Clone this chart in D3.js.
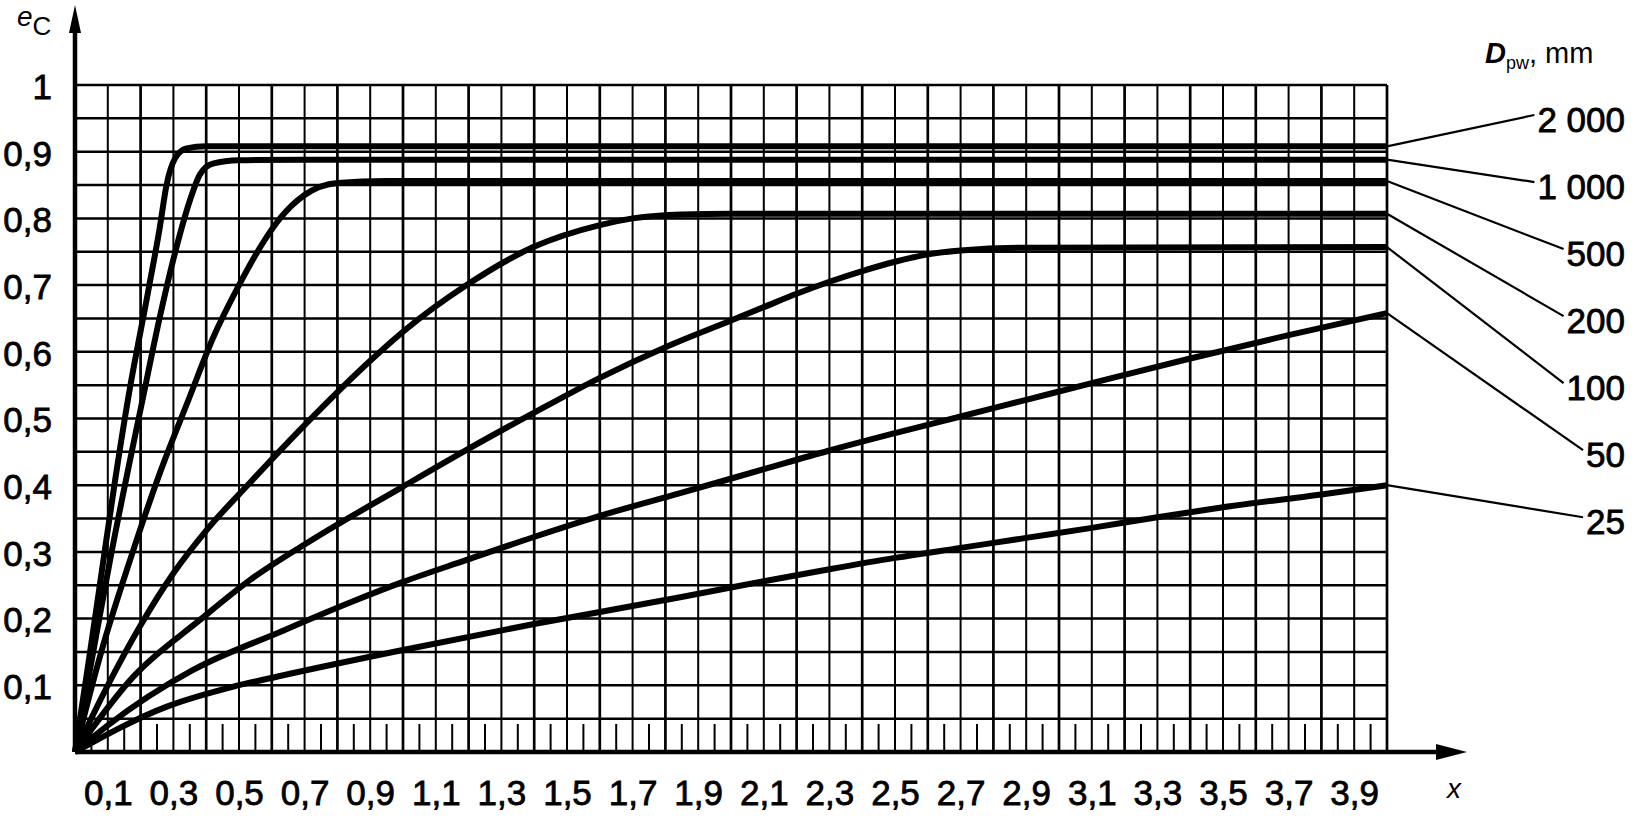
<!DOCTYPE html>
<html>
<head>
<meta charset="utf-8">
<script src="https://cdn.jsdelivr.net/npm/d3@7"></script>
<style>
  body { margin: 0; background: #fff; }
  text { font-family: "Liberation Sans", Arial, sans-serif; fill: #000; }
</style>
</head>
<body>
<div id="chart"></div>
<script>
// curve labels (D_pw, mm), top to bottom
var dpwLabels = ["2 000", "1 000", "500", "200", "100", "50", "25"];

// x tick labels (odd tenths) and y tick values
var xTickValues = [0.1, 0.3, 0.5, 0.7, 0.9, 1.1, 1.3, 1.5, 1.7, 1.9, 2.1, 2.3, 2.5, 2.7, 2.9, 3.1, 3.3, 3.5, 3.7, 3.9];
var yTickValues = [0.1, 0.2, 0.3, 0.4, 0.5, 0.6, 0.7, 0.8, 0.9, 1];

// [x, e_C]
var d2000 = [[0, 0], [0.04, 0.13], [0.08, 0.265], [0.12, 0.40], [0.163, 0.533], [0.224, 0.693], [0.259, 0.788],
    [0.279, 0.85], [0.305, 0.89], [0.34, 0.905], [0.4, 0.908], [0.6, 0.908], [4.0, 0.908]];
var d1000 = [[0, 0], [0.05, 0.135], [0.107, 0.288], [0.208, 0.533], [0.259, 0.653], [0.31, 0.758], [0.351, 0.828],
    [0.381, 0.866], [0.42, 0.882], [0.5, 0.887], [0.7, 0.888], [4.0, 0.888]];
var d500 = [[0, 0], [0.08, 0.15], [0.168, 0.288], [0.26, 0.42], [0.35, 0.533], [0.42, 0.62], [0.5, 0.70],
    [0.575, 0.765], [0.625, 0.80], [0.70, 0.835], [0.8, 0.853], [0.95, 0.856], [4.0, 0.856]];
var d200 = [[0, 0], [0.1, 0.1], [0.2, 0.19], [0.3, 0.268], [0.4, 0.332], [0.534, 0.404], [0.706, 0.493], [0.91, 0.591],
    [1.0, 0.630], [1.194, 0.700], [1.397, 0.757], [1.6, 0.790], [1.7, 0.80], [1.85, 0.806], [2.0, 0.807], [4.0, 0.807]];
var d100 = [[0, 0], [0.178, 0.113], [0.381, 0.198], [0.534, 0.258], [0.706, 0.313], [1.0, 0.398], [1.194, 0.453],
    [1.397, 0.508], [1.6, 0.561], [1.8, 0.607], [2.0, 0.647], [2.1, 0.667], [2.2, 0.687], [2.3, 0.705], [2.4, 0.721],
    [2.5, 0.735], [2.6, 0.746], [2.7, 0.752], [2.9, 0.756], [4.0, 0.757]];
var d50 = [[0, 0], [0.1, 0.04], [0.36, 0.123], [0.625, 0.18], [0.848, 0.226], [1.0, 0.255], [1.194, 0.288],
    [1.397, 0.322], [1.6, 0.354], [1.845, 0.388], [2.1, 0.424], [2.3, 0.452], [2.5, 0.478], [2.7, 0.503],
    [2.9, 0.528], [3.1, 0.553], [3.4, 0.59], [3.7, 0.625], [4.0, 0.658]];
var d25 = [[0, 0], [0.28, 0.068], [0.483, 0.098], [0.625, 0.114], [1.0, 0.153], [1.4, 0.192], [1.845, 0.232],
    [2.1, 0.256], [2.3, 0.274], [2.5, 0.291], [2.7, 0.306], [2.9, 0.321], [3.1, 0.336], [3.3, 0.352],
    [3.5, 0.367], [3.8, 0.386], [4.0, 0.40]];

var series = [d2000, d1000, d500, d200, d100, d50, d25];

var svgWidth = 1634;
var svgHeight = 816;

var margin = { top: 85, bottom: 64, left: 75, right: 247 };
var width = svgWidth - margin.left - margin.right;
var height = svgHeight - margin.top - margin.bottom;

var svg = d3.select("#chart")
    .append("svg")
    .attr("width", svgWidth)
    .attr("height", svgHeight)
    .style("background", "#fff");

var chartGroup = svg.append("g")
    .attr("transform", `translate(${margin.left}, ${margin.top})`);

var x = d3.scaleLinear().domain([0, 4]).range([0, width]);
var y = d3.scaleLinear().domain([0, 1]).range([height, 0]);

var fmt = function (d) { return d === 1 ? "1" : d3.format(".1f")(d).replace(".", ","); };

// grid: horizontal every 0.05, vertical every 0.1
chartGroup.append("g")
    .selectAll("line")
    .data(d3.range(1, 21).map(i => i * 0.05))
    .enter().append("line")
    .attr("x1", 0).attr("x2", width)
    .attr("y1", d => y(d)).attr("y2", d => y(d))
    .attr("stroke", "#000").attr("stroke-width", 2.5);

chartGroup.append("g")
    .selectAll("line")
    .data(d3.range(1, 41))
    .enter().append("line")
    .attr("x1", d => x(d / 10)).attr("x2", d => x(d / 10))
    .attr("y1", 0).attr("y2", height)
    .attr("stroke", "#000")
    .attr("stroke-width", d => d % 2 === 0 ? 2.7 : 2);

// short ticks in the middle of each cell along the x axis
chartGroup.append("g")
    .selectAll("line")
    .data(d3.range(0, 40).map(i => i / 10 + 0.05))
    .enter().append("line")
    .attr("x1", d => x(d)).attr("x2", d => x(d))
    .attr("y1", height).attr("y2", y(0.042))
    .attr("stroke", "#000").attr("stroke-width", 2);

// axes with arrows
chartGroup.append("line")
    .attr("x1", 0).attr("x2", 1442 - margin.left)
    .attr("y1", height).attr("y2", height)
    .attr("stroke", "#000").attr("stroke-width", 4.5);
chartGroup.append("path")
    .attr("d", `M${1436 - margin.left},${height - 8} L${1467 - margin.left},${height} L${1436 - margin.left},${height + 8} Z`)
    .attr("fill", "#000");
chartGroup.append("line")
    .attr("x1", 0).attr("x2", 0)
    .attr("y1", height).attr("y2", 20 - margin.top)
    .attr("stroke", "#000").attr("stroke-width", 4.5);
chartGroup.append("path")
    .attr("d", `M-6,${33 - margin.top} L0,${5 - margin.top} L6,${33 - margin.top} Z`)
    .attr("fill", "#000");

// tick labels
var xAxis = d3.axisBottom(x).tickValues(xTickValues).tickSize(0).tickFormat(fmt);
var yAxis = d3.axisLeft(y).tickValues(yTickValues).tickSize(0).tickFormat(fmt);

var gx = chartGroup.append("g")
    .attr("transform", `translate(0, ${height})`)
    .call(xAxis);
gx.select(".domain").remove();
gx.selectAll("text")
    .attr("y", 53).attr("dy", 0)
    .style("font-size", "35px")
    .style("font-family", "'Liberation Sans', Arial, sans-serif")
    .attr("stroke", "#000").attr("stroke-width", 0.8);

var gy = chartGroup.append("g").call(yAxis);
gy.select(".domain").remove();
gy.selectAll("text")
    .attr("x", -23).attr("dy", "0.38em")
    .style("font-size", "35px")
    .style("font-family", "'Liberation Sans', Arial, sans-serif")
    .attr("stroke", "#000").attr("stroke-width", 0.8);

// curves
var line = d3.line()
    .x(d => x(d[0]))
    .y(d => y(d[1]))
    .curve(d3.curveMonotoneX);

chartGroup.selectAll(".curve")
    .data(series)
    .enter().append("path")
    .attr("class", "curve")
    .attr("d", line)
    .attr("fill", "none")
    .attr("stroke", "#000")
    .attr("stroke-width", 6)
    .attr("stroke-linejoin", "round");

// curve labels and leader lines
var labelRight = 1625 - margin.left;
dpwLabels.forEach(function (lab, i) {
    var last = series[i][series[i].length - 1];
    var ly = y(0.955 - 0.1005 * i);
    var t = chartGroup.append("text")
        .attr("x", labelRight)
        .attr("y", ly + 17)
        .attr("text-anchor", "end")
        .style("font-size", "35px")
        .attr("stroke", "#000").attr("stroke-width", 0.8)
        .text(lab);
    var tw = t.node().getComputedTextLength();
    chartGroup.append("line")
        .attr("x1", x(last[0])).attr("y1", y(last[1]))
        .attr("x2", labelRight - tw - 3).attr("y2", ly)
        .attr("stroke", "#000").attr("stroke-width", 2.2);
});

// axis titles
var yTitle = svg.append("text").attr("x", 17).attr("y", 35);
yTitle.append("tspan").style("font-style", "italic").style("font-size", "28px").attr("dy", -9).text("e");
yTitle.append("tspan").style("font-size", "26px").attr("dy", 9).text("C");

svg.append("text")
    .attr("x", 1447).attr("y", 798)
    .style("font-style", "italic").style("font-size", "28px")
    .text("x");

var dTitle = svg.append("text").attr("x", 1485).attr("y", 63).style("font-size", "29px");
dTitle.append("tspan").style("font-style", "italic").style("font-weight", "bold").text("D");
dTitle.append("tspan").style("font-size", "18px").attr("dy", 6).text("pw");
dTitle.append("tspan").attr("dy", -6).text(", mm");
</script>
</body>
</html>
